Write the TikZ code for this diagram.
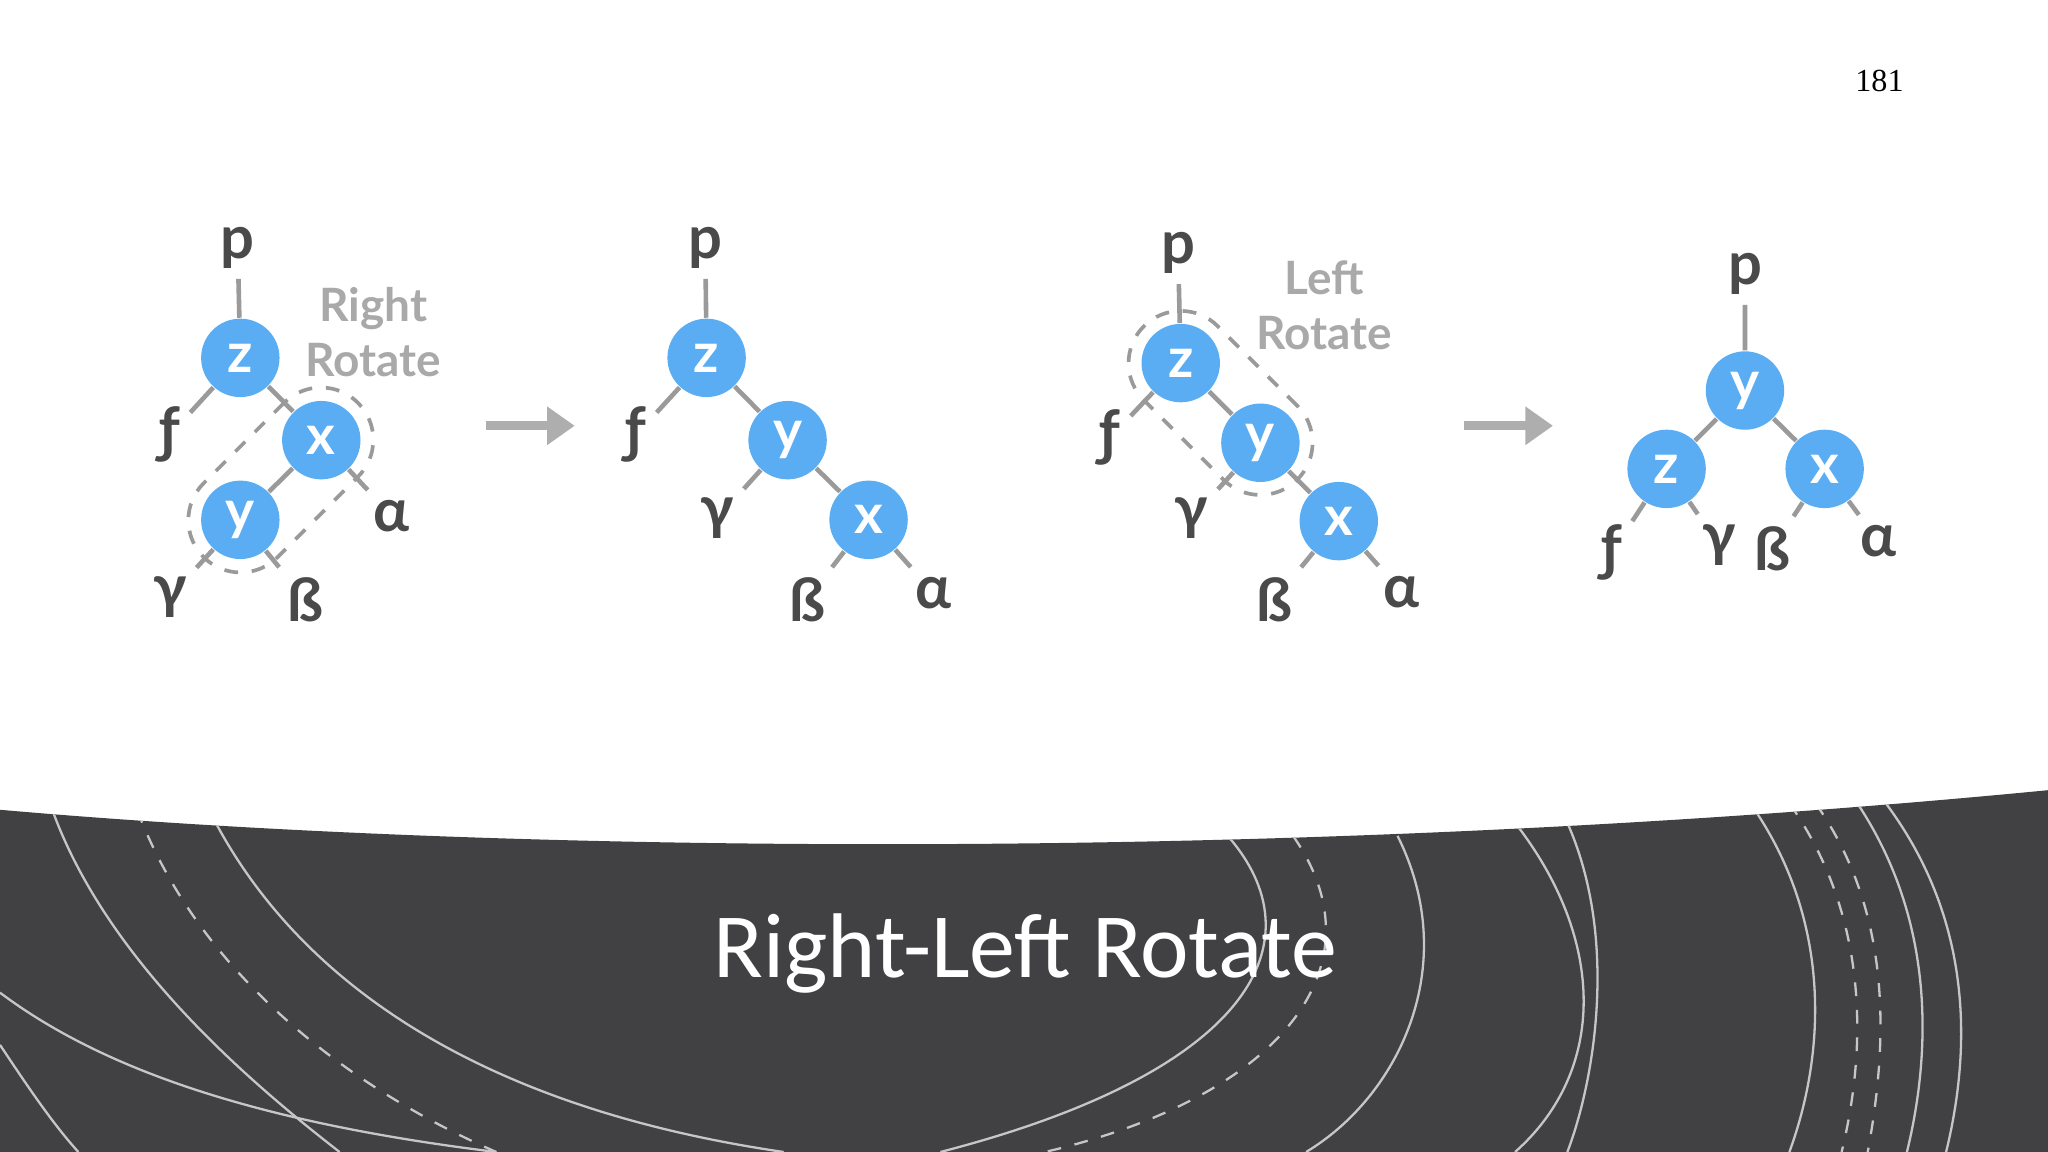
\documentclass[tikz,border=0pt]{standalone}
\usepackage{fontspec}
\setmainfont{Lato}
\newfontfamily\titlefont{Carlito}
\newfontfamily\numfont{Liberation Serif}
\definecolor{nodeblue}{HTML}{5AADF2}
\definecolor{lbl}{HTML}{4A4A4A}
\definecolor{edge}{HTML}{9A9A9A}
\definecolor{band}{HTML}{414042}
\usetikzlibrary{arrows.meta}
\tikzset{
 rb/.style={circle,fill=nodeblue,minimum size=0.6cm,inner sep=0pt,text=white,font=\bfseries\fontsize{12}{12}\selectfont},
 lf/.style={text=lbl,font=\bfseries\fontsize{13}{13}\selectfont,inner sep=2pt},
 ed/.style={draw=edge,line width=1pt},
 hint/.style={text=edge!85,font=\bfseries\fontsize{10}{12}\selectfont,align=center},
 grp/.style={draw=edge,dashed,line width=0.8pt,rounded corners=0.4cm,minimum height=0.8cm,inner sep=0pt},
 mv/.style={draw=edge!80,line width=2pt,-{Triangle[length=6pt,width=8pt]}},
 deco/.style={draw=white!70!band,line width=0.5pt}
}
\begin{document}
\begin{tikzpicture}[x=0.01cm,y=-0.01cm]
\useasboundingbox (0,0) rectangle (1568,882);
\fill[white] (0,0) rectangle (1568,882);
\node[font=\numfont\fontsize{7}{7}\selectfont] (pg) at (1439,62) {181};
% tree 1
\node[lf] (p1) at (182,190) {p};
\node[rb] (z1) at (184,274) {z};
\node[rb] (x1) at (246,337) {x};
\node[rb] (y1) at (184,398) {y};
\node[lf] (f1) at (130,333) {ƒ};
\node[lf] (a1) at (300,395) {α};
\node[lf] (g1) at (130,457) {γ};
\node[lf] (b1) at (234,459) {ß};
\draw[ed] (p1)--(z1) (z1)--(f1) (z1)--(x1) (x1)--(y1) (x1)--(a1) (y1)--(g1) (y1)--(b1);
\node[grp,minimum width=1.67cm,rotate=45] (g1a) at (215,367.5) {};
\node[hint] (h1) at (286,254) {Right\\Rotate};
\coordinate (a1s) at (372,326); \coordinate (a1e) at (440,326);
\draw[mv] (a1s)--(a1e);
% tree 2
\node[lf] (p2) at (540,190) {p};
\node[rb] (z2) at (541,274) {z};
\node[rb] (y2) at (603,337) {y};
\node[rb] (x2) at (665,398) {x};
\node[lf] (f2) at (487,333) {ƒ};
\node[lf] (g2) at (549,397) {γ};
\node[lf] (b2) at (618,459) {ß};
\node[lf] (a2) at (715,454) {α};
\draw[ed] (p2)--(z2) (z2)--(f2) (z2)--(y2) (y2)--(g2) (y2)--(x2) (x2)--(b2) (x2)--(a2);
% tree 3
\node[lf] (p3) at (902,194) {p};
\node[rb] (z3) at (904,278) {z};
\node[rb] (y3) at (965,339) {y};
\node[rb] (x3) at (1025,399) {x};
\node[lf] (f3) at (850,335) {ƒ};
\node[lf] (g3) at (912,397) {γ};
\node[lf] (b3) at (976,459) {ß};
\node[lf] (a3) at (1073,453) {α};
\draw[ed] (p3)--(z3) (z3)--(f3) (z3)--(y3) (y3)--(g3) (y3)--(x3) (x3)--(b3) (x3)--(a3);
\node[grp,minimum width=1.66cm,rotate=-45] (g3a) at (934.5,308.5) {};
\node[hint] (h3) at (1014,234) {Left\\Rotate};
\coordinate (a2s) at (1121,326); \coordinate (a2e) at (1189,326);
\draw[mv] (a2s)--(a2e);
% tree 4
\node[lf] (p4) at (1336,210) {p};
\node[rb] (y4) at (1336,299) {y};
\node[rb] (z4) at (1276,359) {z};
\node[rb] (x4) at (1397,359) {x};
\node[lf] (f4) at (1234,423) {ƒ};
\node[lf] (g4) at (1316,417) {γ};
\node[lf] (b4) at (1357,420) {ß};
\node[lf] (a4) at (1438,414) {α};
\draw[ed] (p4)--(y4) (y4)--(z4) (y4)--(x4) (z4)--(f4) (z4)--(g4) (x4)--(b4) (x4)--(a4);
% band
\fill[band] (0,620) .. controls (400,655) and (1000,660) .. (1568,605) -- (1568,882) -- (0,882) -- cycle;
\begin{scope}
\clip (0,620) .. controls (400,655) and (1000,660) .. (1568,605) -- (1568,882) -- (0,882) -- cycle;
\draw[deco] (40,620) .. controls (80,730) and (180,820) .. (260,882);
\draw[deco,dashed] (105,620) .. controls (150,740) and (260,830) .. (380,882);
\draw[deco] (160,620) .. controls (230,760) and (380,850) .. (600,882);
\draw[deco] (0,800) .. controls (20,830) and (40,860) .. (60,882);
\draw[deco] (0,760) .. controls (80,820) and (200,860) .. (380,882);
\draw[deco] (940,640) .. controls (1010,720) and (960,820) .. (720,882);
\draw[deco,dashed] (990,640) .. controls (1060,740) and (980,840) .. (800,882);
\draw[deco] (1070,640) .. controls (1120,740) and (1070,840) .. (1000,882);
\draw[deco] (1160,630) .. controls (1230,720) and (1230,820) .. (1160,882);
\draw[deco] (1200,630) .. controls (1240,720) and (1220,830) .. (1200,882);
\draw[deco] (1340,615) .. controls (1400,700) and (1400,800) .. (1370,882);
\draw[deco,dashed] (1370,615) .. controls (1430,700) and (1430,800) .. (1410,882);
\draw[deco,dashed] (1390,615) .. controls (1450,700) and (1445,800) .. (1430,882);
\draw[deco] (1420,612) .. controls (1480,700) and (1480,800) .. (1460,882);
\draw[deco] (1440,610) .. controls (1510,700) and (1510,800) .. (1490,882);
\end{scope}
\node[text=white,font=\titlefont\fontsize{20}{20}\selectfont] (title) at (785,730) {Right-Left Rotate};
\end{tikzpicture}
\end{document}
